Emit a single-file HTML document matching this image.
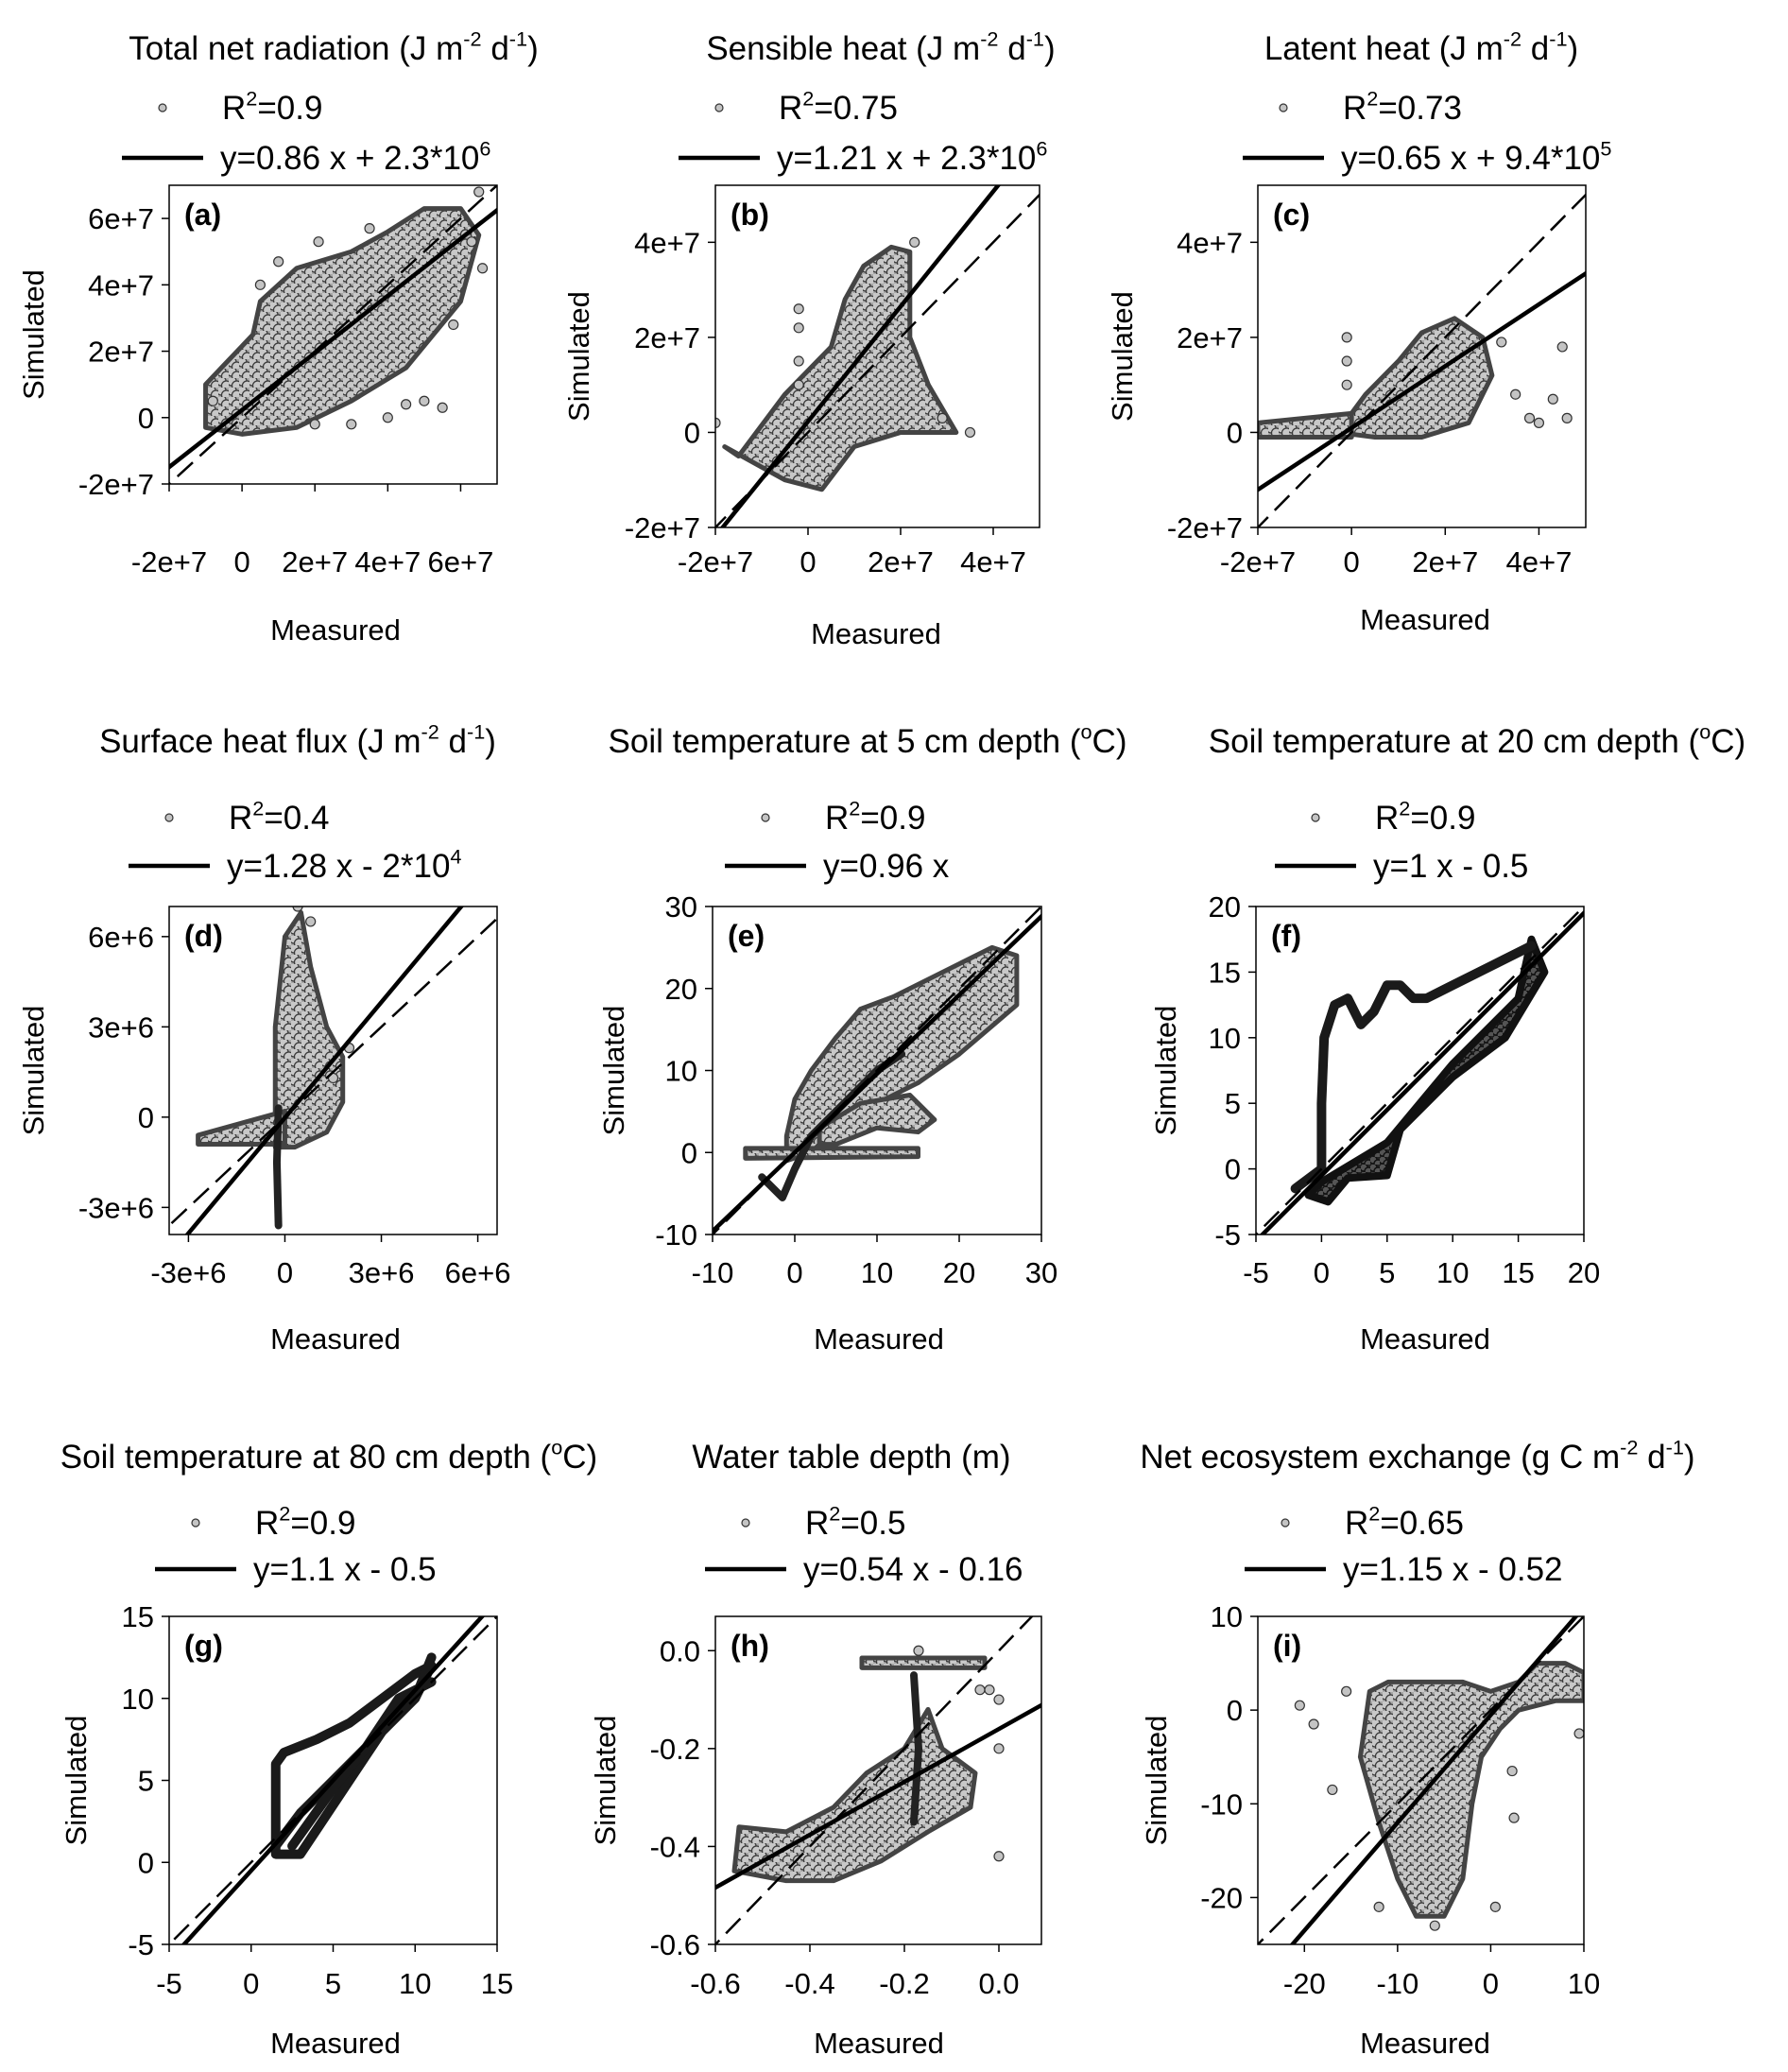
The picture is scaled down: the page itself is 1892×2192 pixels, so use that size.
<!DOCTYPE html>
<html><head><meta charset="utf-8"><style>
html,body{margin:0;padding:0;background:#fff;overflow:hidden;width:1892px;height:2192px}
svg{display:block}
text{font-family:"Liberation Sans",sans-serif;fill:#000}
</style></head><body>
<svg id="fig" width="1892" height="2192" viewBox="0 0 1892 2192" xmlns="http://www.w3.org/2000/svg">
<defs>
<pattern id="dotsL" patternUnits="userSpaceOnUse" width="11" height="10">
<rect width="11" height="10" fill="#a8a8a8"/>
<circle cx="3" cy="3" r="5" fill="#c8c8c8" stroke="#3a3a3a" stroke-width="1.3"/>
<circle cx="8.5" cy="8" r="5" fill="#c8c8c8" stroke="#3a3a3a" stroke-width="1.3"/>
</pattern>
<pattern id="dotsD" patternUnits="userSpaceOnUse" width="10" height="8">
<rect width="10" height="8" fill="#222"/>
<circle cx="3" cy="3" r="4" fill="#555" stroke="#111" stroke-width="1.5"/>
<circle cx="8" cy="7" r="4" fill="#555" stroke="#111" stroke-width="1.5"/>
</pattern>
</defs>
</svg>
<script>
const aCloud=[[-1,-0.3],[-1,1],[0.3,2.5],[0.5,3.5],[1.5,4.5],[3,5],[4,5.6],[5,6.3],[6,6.3],[6.5,5.5],[6,3.5],[4.5,1.5],[3,0.5],[1.5,-0.3],[0,-0.5]];
const aPoints=[[5.5,0.3],[4,0],[3,-0.2],[2,-0.2],[5,0.5],[4.5,0.4],[1,4.7],[2.1,5.3],[3.5,5.7],[6.5,6.8],[6.6,4.5],[5.8,2.8],[0.5,4],[-0.8,0.5],[6.3,5.3]];
const bCloud=[[-1.5,-0.5],[-0.5,0.8],[0.5,1.8],[0.8,2.8],[1.2,3.5],[1.8,3.9],[2.2,3.8],[2.2,2.0],[2.6,1.0],[3.2,0.0],[2,0],[1,-0.3],[0.3,-1.2],[-0.5,-1.0],[-1.8,-0.3]];
const bPoints=[[-2,0.2],[3.5,0],[2.9,0.3],[-0.2,1],[-0.2,1.5],[-0.2,2.2],[-0.2,2.6],[2.3,4.0]];
const cCloud=[[-0.3,0],[0.3,0.8],[1,1.5],[1.5,2.1],[2.2,2.4],[2.8,2.0],[3,1.2],[2.5,0.2],[1.5,-0.1],[0.5,-0.1]];
const cBand=[[-2,-0.1],[-2,0.2],[0,0.4],[0,-0.1]];
const cPoints=[[3.5,0.8],[4.5,1.8],[4.6,0.3],[4.3,0.7],[3.8,0.3],[3.2,1.9],[4,0.2],[-0.1,1.0],[-0.1,1.5],[-0.1,2.0]];
const dCloud=[[-0.3,-1],[-0.3,3],[0,6],[0.5,6.8],[0.8,5],[1.3,3],[1.8,2],[1.8,0.5],[1.3,-0.5],[0.3,-1]];
const dBand=[[-2.7,-0.9],[-2.7,-0.6],[0,0.2],[0,-0.9]];
const dPath=[[-0.2,0.3],[-0.25,-1.5],[-0.2,-3.6]];
const dPoints=[[2,2.3],[1.5,1.3],[0.4,7],[0.8,6.5]];
const eCloud=[[-1,2],[0,6.5],[2,10],[5,14],[8,17.5],[12,19],[16,21],[24,25],[27,24],[27,18],[20,12],[15,8.5],[10,6],[5,3],[2,0],[-1,-1]];
const eBranch=[[3,3],[8,6],[14,7],[17,4],[15,2.5],[10,3],[5,1],[3,1]];
const eBand=[[-6,-0.7],[-6,0.5],[15,0.5],[15,-0.5]];
const ePath=[[-4,-3],[-1.5,-5.5],[0,-2],[2,2],[5,5],[10,10],[13,12]];
const fCloud=[[-1,-2],[0,-1],[5,2],[10,8],[15,13],[16,17.5],[17,15],[14,10],[10,7],[6,3],[5,-0.5],[2,-0.7],[0.5,-2.5]];
const fPath=[[-2,-1.5],[0,0],[0,5],[0.2,10],[1,12.5],[2,13],[2.5,12],[3,11],[4,12],[5,14],[6,14],[7,13],[8,13],[10,14],[14,16],[16,17]];
const gPathA=[[1.5,0.5],[1.5,4],[1.5,6],[2,6.7],[4,7.5],[6,8.5],[8,10],[10,11.5],[11,12],[10,10],[8,8],[6,5],[4,2],[3,0.5],[1.5,0.5]];
const gPathB=[[1.5,1],[3,3],[5,5],[8,8],[10,10],[11,12.5]];
const gPathC=[[2.5,1],[5,4.5],[7,7],[9,10],[11,11]];
const hCloud=[[-0.56,-0.45],[-0.55,-0.36],[-0.45,-0.37],[-0.35,-0.32],[-0.28,-0.25],[-0.2,-0.2],[-0.15,-0.12],[-0.12,-0.2],[-0.05,-0.25],[-0.06,-0.32],[-0.15,-0.37],[-0.25,-0.43],[-0.35,-0.47],[-0.45,-0.47]];
const hBand=[[-0.29,-0.035],[-0.29,-0.015],[-0.03,-0.015],[-0.03,-0.035]];
const hPath=[[-0.18,-0.35],[-0.17,-0.2],[-0.18,-0.05]];
const hPoints=[[0,-0.42],[0,-0.2],[0,-0.1],[-0.17,0.0],[-0.04,-0.08],[-0.02,-0.08]];
const iCloud=[[-14,-5],[-13,2],[-11,3],[-8,3],[-3,3],[0,2],[3,3],[5,5],[8,5],[10,4],[10,1],[7,1],[3,0],[1,-2],[-1,-5],[-2,-10],[-3,-18],[-5,-22],[-8,-22],[-10,-18],[-12,-12]];
const iPoints=[[-20.5,0.5],[-19,-1.5],[-17,-8.5],[-15.5,2],[-12,-21],[0.5,-21],[2.3,-6.5],[2.5,-11.5],[9.5,-2.5],[-6,-23]];
const slopes=[0.86,1.21,0.65,1.28,0.96,1,1.1,0.54,1.15];
const intercepts=[0.23,0.23,0.094,-0.02,0,-0.5,-0.5,-0.16,-0.52];
const xTicks=[[-2,0,2,4,6],[-2,0,2,4],[-2,0,2,4],[-3,0,3,6],[-10,0,10,20,30],[-5,0,5,10,15,20],[-5,0,5,10,15],[-0.6,-0.4,-0.2,0],[-20,-10,0,10]];
const xTickLabels=[["-2e+7","0","2e+7","4e+7","6e+7"],["-2e+7","0","2e+7","4e+7"],["-2e+7","0","2e+7","4e+7"],["-3e+6","0","3e+6","6e+6"],["-10","0","10","20","30"],["-5","0","5","10","15","20"],["-5","0","5","10","15"],["-0.6","-0.4","-0.2","0.0"],["-20","-10","0","10"]];
const yTicks=[[-2,0,2,4,6],[-2,0,2,4],[-2,0,2,4],[-3,0,3,6],[-10,0,10,20,30],[-5,0,5,10,15,20],[-5,0,5,10,15],[-0.6,-0.4,-0.2,0],[-20,-10,0,10]];
const yTickLabels=xTickLabels;

const NS="http://www.w3.org/2000/svg";
const svg=document.getElementById('fig');
function el(tag,attrs,parent){const e=document.createElementNS(NS,tag);for(const k in attrs)e.setAttribute(k,attrs[k]);(parent||svg).appendChild(e);return e;}
const panels=[
 {id:'a',box:[179,196,526,512],xd:[-2,7],yd:[-2,7],title:['Total net radiation (J m','-2',' d','-1',')'],tc:353,ty:63,r2:'0.9',eq:['y=0.86 x + 2.3*10','6'],lx:129,ly:126,ey:179,ylx:35,mx:355,tky:605,my:677,clouds:[aCloud],pts:aPoints,paths:[],dark:false},
 {id:'b',box:[757,196,1100,558],xd:[-2,5],yd:[-2,5.2],title:['Sensible heat (J m','-2',' d','-1',')'],tc:932,ty:63,r2:'0.75',eq:['y=1.21 x + 2.3*10','6'],lx:718,ly:126,ey:179,ylx:612,mx:927,tky:605,my:681,clouds:[bCloud],pts:bPoints,paths:[],dark:false},
 {id:'c',box:[1331,196,1678,558],xd:[-2,5],yd:[-2,5.2],title:['Latent heat (J m','-2',' d','-1',')'],tc:1504,ty:63,r2:'0.73',eq:['y=0.65 x + 9.4*10','5'],lx:1315,ly:126,ey:179,ylx:1187,mx:1508,tky:605,my:666,clouds:[cCloud,cBand],pts:cPoints,paths:[],dark:false},
 {id:'d',box:[179,959,526,1306],xd:[-3.6,6.6],yd:[-3.9,7],title:['Surface heat flux (J m','-2',' d','-1',')'],tc:315,ty:796,r2:'0.4',eq:['y=1.28 x - 2*10','4'],lx:136,ly:877,ey:928,ylx:35,mx:355,tky:1357,my:1427,clouds:[dCloud,dBand],pts:dPoints,paths:[dPath],dark:false},
 {id:'e',box:[754,959,1102,1306],xd:[-10,30],yd:[-10,30],title:['Soil temperature at 5 cm depth (','o','C)'],tc:918,ty:796,r2:'0.9',eq:['y=0.96 x'],lx:767,ly:877,ey:928,ylx:649,mx:930,tky:1357,my:1427,clouds:[eCloud,eBranch,eBand],pts:[],paths:[ePath],dark:false},
 {id:'f',box:[1329,959,1676,1306],xd:[-5,20],yd:[-5,20],title:['Soil temperature at 20 cm depth (','o','C)'],tc:1563,ty:796,r2:'0.9',eq:['y=1 x - 0.5'],lx:1349,ly:877,ey:928,ylx:1233,mx:1508,tky:1357,my:1427,clouds:[fCloud],pts:[],paths:[fPath],dark:true},
 {id:'g',box:[179,1710,526,2057],xd:[-5,15],yd:[-5,15],title:['Soil temperature at 80 cm depth (','o','C)'],tc:348,ty:1553,r2:'0.9',eq:['y=1.1 x - 0.5'],lx:164,ly:1623,ey:1672,ylx:80,mx:355,tky:2109,my:2172,clouds:[],pts:[],paths:[gPathA,gPathB,gPathC],dark:true},
 {id:'h',box:[757,1710,1102,2057],xd:[-0.6,0.09],yd:[-0.6,0.07],title:['Water table depth (m)'],tc:901,ty:1553,r2:'0.5',eq:['y=0.54 x - 0.16'],lx:746,ly:1623,ey:1672,ylx:640,mx:930,tky:2109,my:2172,clouds:[hCloud,hBand],pts:hPoints,paths:[hPath],dark:false},
 {id:'i',box:[1331,1710,1676,2057],xd:[-25,10],yd:[-25,10],title:['Net ecosystem exchange (g C m','-2',' d','-1',')'],tc:1500,ty:1553,r2:'0.65',eq:['y=1.15 x - 0.52'],lx:1317,ly:1623,ey:1672,ylx:1223,mx:1508,tky:2109,my:2172,clouds:[iCloud],pts:iPoints,paths:[],dark:false}
];

function richText(parts,x,y,size,anchor,g){
 const t=el('text',{x:x,y:y,'font-size':size,'text-anchor':anchor},g);
 parts.forEach((p,i)=>{
  const sup=(i%2===1);
  const ts=el('tspan',{},t);
  if(sup){ts.setAttribute('font-size',size*0.62);ts.setAttribute('dy',-size*0.42);}
  else if(i>0){ts.setAttribute('dy',size*0.42);}
  ts.textContent=p;
 });
 return t;
}

panels.forEach((p,pi)=>{
 const g=el('g',{});
 
 
 const [x0,y0,x1,y1]=p.box;
 const sx=v=>x0+(v-p.xd[0])/(p.xd[1]-p.xd[0])*(x1-x0);
 const sy=v=>y1-(v-p.yd[0])/(p.yd[1]-p.yd[0])*(y1-y0);
 const cp=el('clipPath',{id:'clip'+p.id},g);
 el('rect',{x:x0,y:y0,width:x1-x0,height:y1-y0},cp);
 const plot=el('g',{'clip-path':'url(#clip'+p.id+')'},g);
 
 
 const fill=p.dark?'url(#dotsD)':'url(#dotsL)';
 p.clouds.forEach(c=>{
  const poly=el('polygon',{points:c.map(q=>sx(q[0])+','+sy(q[1])).join(' '),fill:fill,stroke:p.dark?'#111':'#444','stroke-width':p.dark?8:5,'stroke-linejoin':'round'},plot);
  
  
 });
 p.paths.forEach(c=>{
  const pl=el('polyline',{points:c.map(q=>sx(q[0])+','+sy(q[1])).join(' '),fill:'none',stroke:p.dark?'#1a1a1a':'#222','stroke-width':p.dark?10:8,'stroke-linejoin':'round','stroke-linecap':'round'},plot);
  
  
 });
 p.pts.forEach(q=>{
  const c=el('circle',{cx:sx(q[0]),cy:sy(q[1]),r:5,fill:'#c4c4c4',stroke:'#333','stroke-width':1.2},plot);
  
  
 });
 const lo=Math.min(p.xd[0],p.yd[0])-1,hi=Math.max(p.xd[1],p.yd[1])+1;
 const one=el('line',{x1:sx(lo),y1:sy(lo),x2:sx(hi),y2:sy(hi),stroke:'#000','stroke-width':2.5,'stroke-dasharray':'22,10'},plot);
 
 
 const m=slopes[pi],b=intercepts[pi];
 const reg=el('line',{x1:sx(lo),y1:sy(m*lo+b),x2:sx(hi),y2:sy(m*hi+b),stroke:'#000','stroke-width':4.5},plot);
 
 
 const fr=el('rect',{x:x0,y:y0,width:x1-x0,height:y1-y0,fill:'none',stroke:'#000','stroke-width':1.5},g);
 
 
 xTicks[pi].forEach((v,k)=>{
  el('line',{x1:sx(v),y1:y1,x2:sx(v),y2:y1+8,stroke:'#000','stroke-width':1.5},g);
  const t=el('text',{x:sx(v),y:p.tky,'font-size':31,'text-anchor':'middle'},g);
  
  
  t.textContent=xTickLabels[pi][k];
 });
 yTicks[pi].forEach((v,k)=>{
  el('line',{x1:x0-8,y1:sy(v),x2:x0,y2:sy(v),stroke:'#000','stroke-width':1.5},g);
  const t=el('text',{x:x0-16,y:sy(v)+11,'font-size':31,'text-anchor':'end'},g);
  
  
  t.textContent=yTickLabels[pi][k];
 });
 const pl=el('text',{x:x0+16,y:y0+42,'font-size':32,'font-weight':'bold'},g);
 
 
 pl.textContent='('+p.id+')';
 const yl=el('text',{x:p.ylx,y:(y0+y1)/2,'font-size':31,'text-anchor':'middle',transform:'rotate(-90 '+p.ylx+' '+(y0+y1)/2+')',dy:11},g);
 
 
 yl.textContent='Simulated';
 const xl=el('text',{x:p.mx,y:p.my,'font-size':31,'text-anchor':'middle'},g);
 
 
 xl.textContent='Measured';
 const tt=richText(p.title,p.tc,p.ty,35,'middle',g);
 
 
 const lg=el('g',{},g);
 
 
 el('circle',{cx:p.lx+43,cy:p.ly-12,r:4,fill:'#c4c4c4',stroke:'#333','stroke-width':1.2},lg);
 const r=richText(['R','2','=' + p.r2],p.lx+106,p.ly,35,'start',lg);
 
 
 el('line',{x1:p.lx,y1:p.ey-12,x2:p.lx+86,y2:p.ey-12,stroke:'#000','stroke-width':4.5},lg);
 const eqt=richText(p.eq,p.lx+104,p.ey,35,'start',lg);
 
 
});
</script>
</body></html>
